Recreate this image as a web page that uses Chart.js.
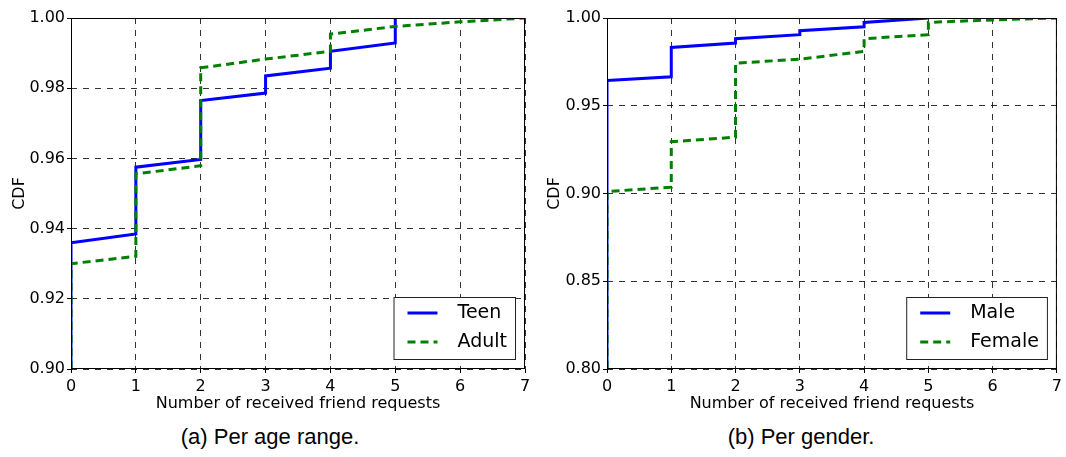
<!DOCTYPE html>
<html>
<head>
<meta charset="utf-8">
<script src="https://cdn.jsdelivr.net/npm/chart.js@4"></script>
<style>
  body { margin: 0; background: #fff; width: 1066px; height: 457px; position: relative; overflow: hidden; }
  canvas.panel { position: absolute; top: 0; }
  .caption { position: absolute; top: 424px; font-family: "Liberation Sans", Arial, sans-serif; font-size: 22px; color: #000; text-align: center; white-space: nowrap; }
</style>
</head>
<body>
<canvas id="ageChart" class="panel" width="540" height="415" style="left:0"></canvas>
<canvas id="genderChart" class="panel" width="533" height="415" style="left:533px"></canvas>
<div class="caption" style="left:170px;width:200px">(a) Per age range.</div>
<div class="caption" style="left:701px;width:200px">(b) Per gender.</div>

<script>
// step CDFs: each x is repeated where the curve jumps
const teenX   = [0, 0, 1, 1, 2, 2, 3, 3, 4, 4, 5, 5];
const teenY   = [0.900, 0.936, 0.9385, 0.9575, 0.9597, 0.9765, 0.9786, 0.9835, 0.9857, 0.9905, 0.9929, 1.000];
const adultX  = [0, 0, 1, 1, 2, 2, 3, 4, 4, 5, 6, 7];
const adultY  = [0.900, 0.930, 0.9321, 0.9556, 0.9579, 0.9858, 0.9883, 0.9905, 0.9954, 0.9976, 0.9989, 1.000];

const maleX   = [0, 0, 1, 1, 2, 2, 3, 3, 4, 4, 5];
const maleY   = [0.80, 0.9644, 0.9665, 0.9832, 0.9857, 0.9882, 0.9905, 0.9928, 0.9950, 0.9975, 1.000];
const femaleX = [0, 0, 1, 1, 2, 2, 3, 4, 4, 5, 5, 6, 7];
const femaleY = [0.80, 0.9011, 0.9036, 0.9295, 0.9321, 0.9743, 0.9765, 0.9810, 0.9882, 0.9905, 0.9975, 0.9989, 1.000];

const xMax = 7;

const FONT = '"DejaVu Sans", sans-serif';

function points(xs, ys) {
  return xs.map((x, i) => ({ x: x, y: ys[i] }));
}

function solidSet(label, xs, ys) {
  return { label: label, data: points(xs, ys), borderColor: '#0000ff', borderWidth: 3,
           pointRadius: 0, tension: 0, order: 2 };
}

function dashedSet(label, xs, ys) {
  return { label: label, data: points(xs, ys), borderColor: '#008000', borderWidth: 3,
           borderDash: [8, 5], pointRadius: 0, tension: 0, order: 1 };
}

// black box round the plot area
const frame = {
  id: 'frame',
  afterDatasetsDraw(chart) {
    const { ctx, chartArea: a } = chart;
    ctx.save();
    ctx.strokeStyle = '#000';
    ctx.lineWidth = 1;
    ctx.strokeRect(a.left + 0.5, a.top + 0.5, a.right - a.left - 1, a.bottom - a.top - 1);
    ctx.restore();
  }
};

// boxed legend in the lower right corner
const cornerLegend = {
  id: 'cornerLegend',
  afterDraw(chart) {
    const { ctx, chartArea: a } = chart;
    const sets = chart.data.datasets;
    ctx.save();
    ctx.font = '19px ' + FONT;
    const textW = Math.max(...sets.map(d => ctx.measureText(d.label).width));
    const w = 64 + textW + 8;
    const h = 62;
    const x = a.right - 10 - w;
    const y = a.bottom - 10 - h;
    ctx.fillStyle = '#fff';
    ctx.fillRect(x, y, w, h);
    ctx.strokeStyle = '#222';
    ctx.lineWidth = 1;
    ctx.strokeRect(x + 0.5, y + 0.5, w, h);
    sets.forEach((d, i) => {
      const ly = y + 16 + i * 29;
      ctx.strokeStyle = d.borderColor;
      ctx.lineWidth = d.borderWidth;
      ctx.setLineDash(d.borderDash || []);
      ctx.beginPath();
      ctx.moveTo(x + 14, ly);
      ctx.lineTo(x + 44, ly);
      ctx.stroke();
      ctx.setLineDash([]);
      ctx.fillStyle = '#000';
      ctx.textBaseline = 'middle';
      ctx.fillText(d.label, x + 64, ly);
    });
    ctx.restore();
  }
};

function makeChart(id, datasets, yMin, yStep, yWidth, rightPad, titlePad) {
  return new Chart(document.getElementById(id), {
    type: 'line',
    data: { datasets: datasets },
    options: {
      responsive: false,
      animation: false,
      layout: { padding: { top: 18, right: rightPad, left: 0, bottom: 0 } },
      plugins: { legend: { display: false }, tooltip: { enabled: false } },
      scales: {
        x: {
          type: 'linear',
          min: 0,
          max: xMax,
          afterFit(scale) { scale.height = 46; },
          ticks: { stepSize: 1, color: '#000', font: { family: FONT, size: 16 }, padding: 4, maxRotation: 0 },
          grid: { color: 'rgba(0,0,0,0.8)', lineWidth: 1, tickLength: 4, tickColor: '#000' },
          border: { display: false, dash: [6, 6] },
          title: { display: true, text: 'Number of received friend requests', color: '#000',
                   font: { family: FONT, size: 16 }, padding: { top: 0, bottom: 2 } }
        },
        y: {
          min: yMin,
          max: 1.0,
          afterFit(scale) { scale.width = yWidth; },
          ticks: { stepSize: yStep, color: '#000', font: { family: FONT, size: 16 }, padding: 2,
                   callback: v => v.toFixed(2) },
          grid: { color: 'rgba(0,0,0,0.8)', lineWidth: 1, tickLength: 4, tickColor: '#000' },
          border: { display: false, dash: [6, 6] },
          title: { display: true, text: 'CDF', color: '#000',
                   font: { family: FONT, size: 16 }, padding: { top: titlePad, bottom: 0 } }
        }
      }
    },
    plugins: [frame, cornerLegend]
  });
}

makeChart('ageChart',
  [solidSet('Teen', teenX, teenY), dashedSet('Adult', adultX, adultY)],
  0.90, 0.02, 71, 15, 10);

makeChart('genderChart',
  [solidSet('Male', maleX, maleY), dashedSet('Female', femaleX, femaleY)],
  0.80, 0.05, 74, 7, 12);
</script>
</body>
</html>
